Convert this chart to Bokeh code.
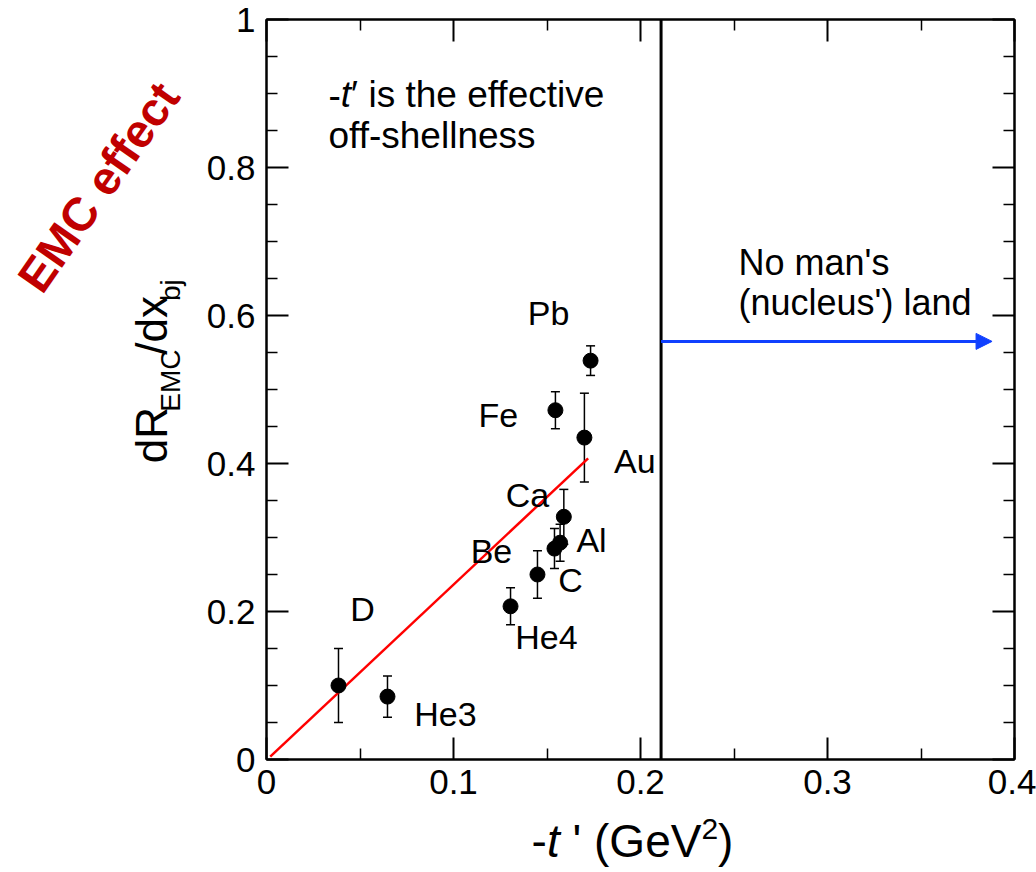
import math

from bokeh.plotting import figure
from bokeh.layouts import row, column
from bokeh.models import (ColumnDataSource, Whisker, TeeHead, Span, Arrow,
                          NormalHead, Label, LinearAxis, FixedTicker)
from bokeh.core.properties import value
from bokeh.embed import file_html
from bokeh.resources import INLINE

# ---- data -----------------------------------------------------------------
nuclei = ["D", "He3", "He4", "C", "Be", "Al", "Ca", "Fe", "Au", "Pb"]
t_prime = [0.0385, 0.0647, 0.1305, 0.1449, 0.1540, 0.1570, 0.1590, 0.1545, 0.1700, 0.1733]
emc_slope = [0.100, 0.085, 0.207, 0.250, 0.285, 0.293, 0.328, 0.472, 0.435, 0.539]
emc_slope_err = [0.050, 0.028, 0.025, 0.032, 0.027, 0.025, 0.037, 0.025, 0.060, 0.020]

# where each nucleus name is written
name_x = [0.0513, 0.0957, 0.1497, 0.1626, 0.1203, 0.1738, 0.1396, 0.1240, 0.1970, 0.1508]
name_y = [0.203, 0.061, 0.165, 0.242, 0.282, 0.297, 0.358, 0.465, 0.403, 0.604]

# straight-line fit through the points
fit_x = [0.002, 0.172]
fit_y = [0.004, 0.407]

# limit of the nuclear region and the arrow pointing beyond it
boundary_t = 0.211
arrow_level = 0.565
arrow_tip = 0.388

x_ticks = [0.0, 0.1, 0.2, 0.3, 0.4]
x_tick_labels = ["0", "0.1", "0.2", "0.3", "0.4"]
x_minor = [0.05, 0.15, 0.25, 0.35]
y_ticks = [0.0, 0.2, 0.4, 0.6, 0.8, 1.0]
y_tick_labels = ["0", "0.2", "0.4", "0.6", "0.8", "1"]
y_minor = [0.05, 0.10, 0.15, 0.25, 0.30, 0.35, 0.45, 0.50, 0.55,
           0.65, 0.70, 0.75, 0.85, 0.90, 0.95]

# ---- layout (page pixels) -------------------------------------------------
W, H = 1036, 872
SIDE_W = 200          # left strip holding the rotated titles
MAIN_H = 809          # main plot height; the x title sits in a strip below
FRAME_L, FRAME_R, FRAME_T, FRAME_B = 266, 1014, 19, 759
XR = (0.0, 0.4)
YR = (0.0, 1.0)
FONT = "Liberation Sans"
MID = 0.35            # distance from baseline to the "middle" anchor, in em


def to_x(px):
    return XR[0] + (px - FRAME_L) / (FRAME_R - FRAME_L) * (XR[1] - XR[0])


def to_y(py):
    return YR[0] + (FRAME_B - py) / (FRAME_B - FRAME_T) * (YR[1] - YR[0])


def main_map(px, py):
    return to_x(px), to_y(py)


def strip_map(ox, oy, h):
    return lambda px, py: (px - ox, h - (py - oy))


# advance widths (1/1000 em) of the sans-serif face, for composing mixed runs
ADV = {' ': 278, "'": 191, '(': 333, ')': 333, '-': 333, '.': 278, '/': 278,
       '2': 556, 'C': 722, 'E': 667, 'G': 778, 'M': 833, 'R': 722, 'V': 667,
       'b': 556, 'c': 500, 'd': 556, 'e': 556, 'f': 278, 'h': 556, 'i': 222,
       'j': 222, 'l': 222, 'n': 556, 'o': 556, 's': 500, 't': 278, 'v': 500,
       'x': 500, '\u2032': 191}


def advance(s, size):
    return sum(ADV.get(ch, 556) for ch in s) * size / 1000.0


def rich_text(fig, mapper, x0, y0, runs, vertical=False, color="black"):
    """Write consecutive runs (text, size, style, raise) whose baseline starts
    at page pixel (x0, y0)."""
    pos = 0.0
    for txt, size, style, shift in runs:
        body = txt.lstrip(" ")
        pos += advance(txt[:len(txt) - len(body)], size)
        up = shift + MID * size
        if vertical:
            px, py, ang = x0 - up, y0 - pos, math.pi / 2
        else:
            px, py, ang = x0 + pos, y0 - up, 0.0
        x, y = mapper(px, py)
        fig.add_layout(Label(x=x, y=y, text=body, angle=ang,
                             text_font=FONT, text_font_size=f"{size}px",
                             text_font_style=style, text_color=color,
                             text_align="left", text_baseline="middle"))
        pos += advance(body, size)


def blank_strip(w, h):
    f = figure(width=w, height=h, x_range=(0, w), y_range=(0, h),
               x_axis_type=None, y_axis_type=None,
               output_backend="svg", toolbar_location=None,
               min_border_left=0, min_border_right=0,
               min_border_top=0, min_border_bottom=0)
    f.grid.visible = False
    f.outline_line_color = None
    f.background_fill_color = "white"
    f.border_fill_color = "white"
    return f


# ---- main plot ------------------------------------------------------------
p = figure(width=W - SIDE_W, height=MAIN_H, x_range=XR, y_range=YR,
           output_backend="svg", toolbar_location=None,
           min_border_left=FRAME_L - SIDE_W, min_border_right=W - FRAME_R,
           min_border_top=FRAME_T, min_border_bottom=MAIN_H - FRAME_B)
p.grid.visible = False
p.outline_line_color = "black"
p.outline_line_width = 2
p.background_fill_color = "white"
p.border_fill_color = "white"


def style_axis(ax, ticks, minor, labels, show_labels, standoff):
    ax.ticker = FixedTicker(ticks=ticks, minor_ticks=minor)
    ax.axis_line_width = 2
    ax.axis_line_color = "black"
    ax.major_tick_line_width = 2
    ax.minor_tick_line_width = 1.5
    ax.major_tick_in = 22
    ax.major_tick_out = 0
    ax.minor_tick_in = 11
    ax.minor_tick_out = 0
    ax.major_label_text_font = FONT
    ax.major_label_text_color = "black"
    if show_labels:
        ax.major_label_overrides = {t: l for t, l in zip(ticks, labels)}
        ax.major_label_text_font_size = "35px"
        ax.major_label_standoff = standoff
    else:
        # mirrored frame axis: ticks only
        ax.major_label_overrides = {t: "" for t in ticks}
        ax.major_label_text_font_size = "1px"
        ax.major_label_standoff = 0


style_axis(p.xaxis[0], x_ticks, x_minor, x_tick_labels, True, 10)
style_axis(p.yaxis[0], y_ticks, y_minor, y_tick_labels, True, 11)
top_axis = LinearAxis()
right_axis = LinearAxis()
style_axis(top_axis, x_ticks, x_minor, x_tick_labels, False, 0)
style_axis(right_axis, y_ticks, y_minor, y_tick_labels, False, 0)
p.add_layout(top_axis, "above")
p.add_layout(right_axis, "right")

src = ColumnDataSource(dict(
    t=t_prime, s=emc_slope,
    lo=[v - e for v, e in zip(emc_slope, emc_slope_err)],
    hi=[v + e for v, e in zip(emc_slope, emc_slope_err)],
))
names = ColumnDataSource(dict(x=name_x, y=name_y, name=nuclei))

p.line(fit_x, fit_y, line_color="#ff0000", line_width=2.5)

p.add_layout(Whisker(source=src, base="t", lower="lo", upper="hi",
                     line_color="black", line_width=1.5,
                     upper_head=TeeHead(size=9, line_color="black", line_width=1.5),
                     lower_head=TeeHead(size=9, line_color="black", line_width=1.5)))
p.scatter("t", "s", source=src, size=15, marker="circle",
          fill_color="black", line_color="black")

p.text("x", "y", text="name", source=names, text_font=value(FONT),
       text_font_size="34px", text_align="center", text_baseline="middle",
       text_color="black")

p.add_layout(Span(location=boundary_t, dimension="height",
                  line_color="black", line_width=3))
blue = "#1040ff"
p.add_layout(Arrow(x_start=boundary_t, y_start=arrow_level,
                   x_end=arrow_tip, y_end=arrow_level,
                   line_color=blue, line_width=3,
                   end=NormalHead(size=16, fill_color=blue, line_color=blue)))

rich_text(p, main_map, 328, 107, [("-", 37, "normal", 0), ("t", 37, "italic", 0),
                                  ("\u2032", 37, "normal", 0),
                                  (" is the effective", 37, "normal", 0)])
rich_text(p, main_map, 328, 148, [("off-shellness", 37, "normal", 0)])
rich_text(p, main_map, 738, 275, [("No man's", 36, "normal", 0)])
rich_text(p, main_map, 738, 315, [("(nucleus') land", 36, "normal", 0)])

# ---- left strip: y-axis title and the red caption ---------------------------
side = blank_strip(SIDE_W, MAIN_H)
smap = strip_map(0, 0, MAIN_H)
rich_text(side, smap, 166, 485, [("dR", 44, "normal", 0), ("EMC", 28, "normal", -14),
                                 ("/dx", 44, "normal", 0), ("bj", 28, "normal", -14)],
          vertical=True)
cx, cy = smap(98, 183)
side.add_layout(Label(x=cx, y=cy, text="EMC effect", angle=math.radians(55),
                      text_font=FONT, text_font_size="47px",
                      text_font_style="bold", text_color="#c00000",
                      text_align="center", text_baseline="middle"))

# ---- x-axis title strip across the page bottom:  -t ' (GeV^2) -------------
bottom = blank_strip(W, H - MAIN_H)
bmap = strip_map(0, MAIN_H, H - MAIN_H)
xt_runs = [("-", 46, "normal", 0), ("t", 46, "italic", 0),
           (" ' (GeV", 46, "normal", 0), ("2", 30, "normal", 18),
           (")", 46, "normal", 0)]
xt_len = sum(advance(t, s) for t, s, _, _ in xt_runs)
rich_text(bottom, bmap, 632 - xt_len / 2, 857, xt_runs)

page = column(row(side, p, spacing=0), bottom, spacing=0)
open("out.html", "w").write(file_html(page, INLINE))
